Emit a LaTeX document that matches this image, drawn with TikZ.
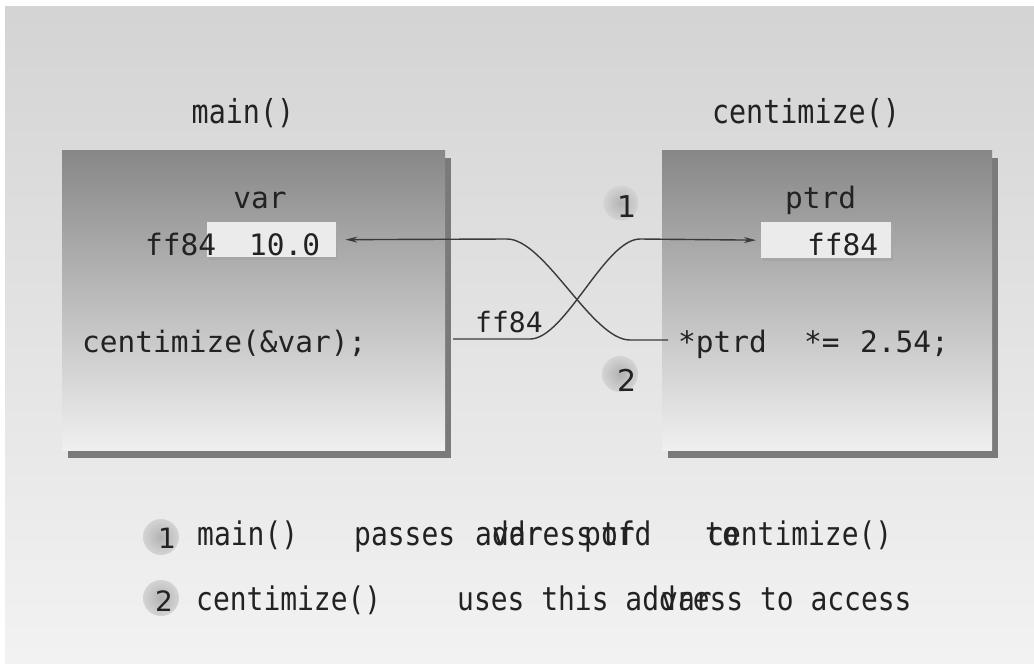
\documentclass[tikz,border=0pt]{standalone}
\usepackage{fontspec}
\newfontfamily\monoin{DejaVu Sans Mono}
\newfontfamily\monocond[FakeStretch=0.86]{DejaVu Sans Mono}
\newfontfamily\digfont{DejaVu Sans}
\usetikzlibrary{arrows.meta,shadows}
\definecolor{ink}{HTML}{222222}
\definecolor{wire}{HTML}{3a3a3a}
\begin{document}
\begin{tikzpicture}[x=1pt,y=-1pt,
  intext/.style={font=\monoin\fontsize{29.5}{34}\selectfont, text=ink, inner sep=0pt, anchor=base west},
  wtext/.style={font=\monoin\fontsize{28}{32}\selectfont, text=ink, inner sep=0pt, anchor=base west},
  title/.style={font=\monocond\fontsize{33}{38}\selectfont, text=ink, inner sep=0pt, anchor=center},
  legend/.style={font=\monocond\fontsize{32.5}{38}\selectfont, text=ink, inner sep=0pt, anchor=base west},
  digit/.style={font=\digfont\fontsize{30}{34}\selectfont, text=ink, inner sep=0pt, anchor=base},
  ldigit/.style={font=\digfont\fontsize{28}{32}\selectfont, text=ink, inner sep=0pt, anchor=base},
  funcbox/.style={draw=none, inner sep=0pt, anchor=north west, top color=black!47, bottom color=black!6,
    drop shadow={shadow xshift=6pt, shadow yshift=-8pt, fill=black!52, opacity=1}},
  valbox/.style={draw=none, inner sep=0pt, anchor=north west, fill=black!8,
    drop shadow={shadow xshift=2pt, shadow yshift=-3pt, fill=black!35, opacity=1}},
  ball/.style={circle, draw=none, inner sep=0pt, minimum size=35pt, inner color=black!30, outer color=black!17},
  wirel/.style={draw=wire, line width=1.4pt},
  tip/.style={-{Stealth[length=12pt,width=6pt]}}
]
\useasboundingbox (0,0) rectangle (1034,664);
\fill[white] (0,0) rectangle (1034,664);
\shade[top color=black!17, bottom color=black!5] (5,6) rectangle (1034,664);

% titles
\node[title] (tmain) at (243,113) {main()};
\node[title] (tcent) at (806,113) {centimize()};

% function boxes
\node[funcbox, minimum width=383pt, minimum height=300pt] (mainbox) at (62,150) {};
\node[funcbox, minimum width=330pt, minimum height=300pt] (centbox) at (662,150) {};

% value boxes
\node[valbox, minimum width=129pt, minimum height=35pt] (val) at (207,222) {};
\node[valbox, minimum width=130pt, minimum height=36pt] (pbox) at (761,222) {};

% texts in main()
\node[intext, anchor=base] (var) at (260,208) {var};
\node[intext] (addr) at (145,255) {ff84};
\node[intext] (ten) at (249,255) {10.0};
\node[intext] (call) at (82,352) {centimize(\&var);};

% texts in centimize()
\node[intext] (ptrd) at (785,208) {ptrd};
\node[intext] (pval) at (807,255) {ff84};
\node[intext] (stmt) at (678,352) {*ptrd};
\node[intext] (stmt2) at (804,352) {*=};
\node[intext] (stmt3) at (860,352) {2.54;};

% connector ends
\coordinate (c1s) at (453,339);
\coordinate (c2s) at (668,340);

% connector 1: main() passes address
\draw[wirel, tip, shorten >=5pt] (c1s) -- (530,339) .. controls (565,339) and (605,239) .. (640,239) -- (pbox.west);
% connector 2: centimize() accesses var
\draw[wirel, tip, shorten >=9pt] (c2s) -- (630,340) .. controls (592,340) and (545,239) .. (507,239) -- (val.east);

\node[wtext] (wlab) at (475,332) {ff84};

% step markers
\node[ball] (s1) at (621,203) {};
\node[digit] (d1) at (627,217) {1};
\node[ball, minimum size=36pt] (s2) at (620,374) {};
\node[digit] (d2) at (627,391) {2};

% legend
\node[ball, minimum size=36pt] (l1) at (161,537) {};
\node[ldigit] (ld1) at (167,548) {1};
\node[legend] (lm) at (197,545) {main()};
\node[legend] (lp) at (354,545) {passes};
\node[legend] (la) at (475,545) {address};
\node[legend] (lv) at (492,545) {var};
\node[legend] (lt) at (584,545) {ptrd};
\node[legend] (lo) at (601,545) {of};
\node[legend] (lc) at (707,545) {centimize()};
\node[legend] (lto) at (705,545) {to};

\node[ball, minimum size=36pt] (l2) at (161,598) {};
\node[ldigit] (ld2) at (164,611) {2};
\node[legend] (lc2) at (196,610) {centimize()};
\node[legend] (lu) at (457,610) {uses this address to access};
\node[legend] (lv2) at (661,610) {var};
\end{tikzpicture}
\end{document}
